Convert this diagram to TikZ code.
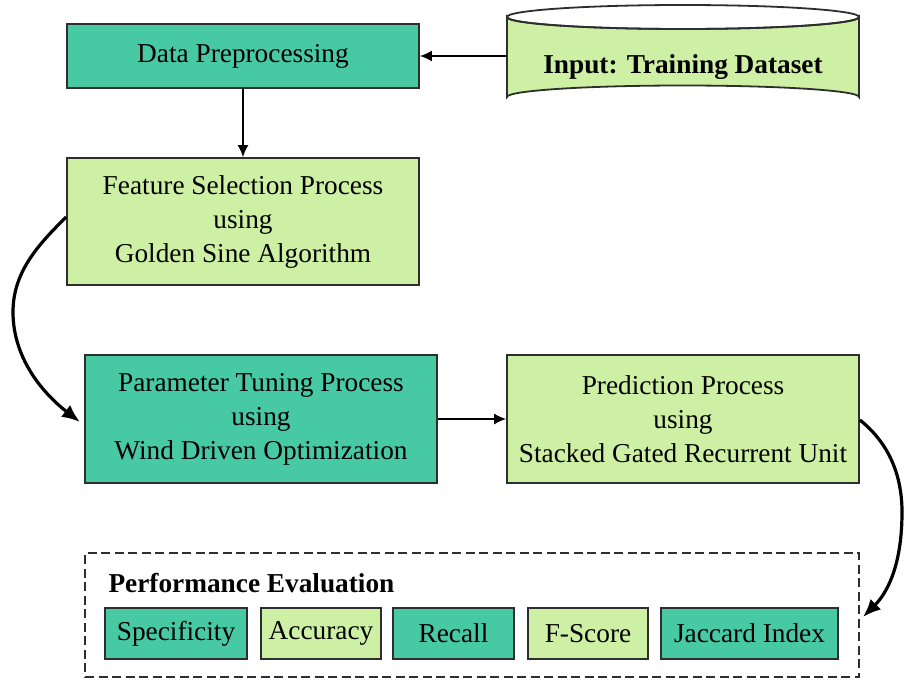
\documentclass[tikz,border=0pt]{standalone}
\usepackage{fontspec}
\setmainfont{Liberation Serif}
\usetikzlibrary{arrows.meta}
\definecolor{tealbox}{HTML}{47C9A4}
\definecolor{limebox}{HTML}{CDF0A4}
\definecolor{edgegray}{HTML}{2E2E2E}
\begin{document}
\begin{tikzpicture}[x=1pt,y=-1pt,
  txt/.style={font=\fontsize{27.3}{34}\selectfont},
  box/.style={draw=edgegray, line width=1.8pt, inner sep=0pt, align=center,
              minimum width=352pt, txt},
  small/.style={draw=edgegray, line width=1.8pt, inner sep=0pt, align=center,
              minimum height=51pt, txt},
  flow/.style={line width=1.6pt, -{Latex[length=12pt,width=11pt]}},
  curvearrow/.style={line width=3.2pt, -{Latex[length=18pt,width=15pt]}}
]
\useasboundingbox[fill=white] (0,0) rectangle (904,680);

% input dataset drum
\path[fill=limebox, draw=edgegray, line width=1.8pt]
  (507,17) -- (507,97)
  arc[start angle=180, end angle=0, x radius=176pt, y radius=11.5pt]
  -- (859,17)
  arc[start angle=0, end angle=-180, x radius=176pt, y radius=12pt] -- cycle;
\draw[edgegray, line width=1.8pt] (683,17) ellipse [x radius=176pt, y radius=12pt];
\node[minimum width=352pt, minimum height=103pt, inner sep=0pt] (inp) at (683,56) {};
\node[txt, font=\fontsize{27.3}{34}\selectfont\bfseries] at (683,67) {Input: Training Dataset};

% processing stages
\node[box, fill=tealbox, minimum height=64pt] (dp) at (243,56) {Data Preprocessing};
\node[box, fill=limebox, minimum height=127pt] (fs) at (243,221.5)
  {Feature Selection Process\\using\\Golden Sine Algorithm};
\node[box, fill=tealbox, minimum height=128pt] (pt) at (261,419)
  {Parameter Tuning Process\\using\\Wind Driven Optimization};
\node[box, fill=limebox, minimum height=128pt] (pr) at (683,419)
  {Prediction Process\\using\\Stacked Gated Recurrent Unit};

% evaluation group
\node[draw=edgegray, line width=2pt, dash pattern=on 9pt off 4.5pt,
      minimum width=774pt, minimum height=124pt, inner sep=0pt] (ev) at (472,615) {};
\node[txt, font=\fontsize{27.3}{34}\selectfont\bfseries, anchor=west] (evt) at (105,583)
  {Performance Evaluation};
\node[small, fill=tealbox, minimum width=142pt] (m1) at (176,633.5) {Specificity};
\node[small, fill=limebox, minimum width=120pt] (m2) at (321,633.5) {Accuracy};
\node[small, fill=tealbox, minimum width=121pt] (m3) at (453.5,633.5) {Recall};
\node[small, fill=limebox, minimum width=120pt] (m4) at (588,633.5) {F-Score};
\node[small, fill=tealbox, minimum width=177pt] (m5) at (749.5,633.5) {Jaccard Index};

% connectors
\draw[flow] (inp.west) -- (dp.east);
\draw[flow] (dp.south) -- (fs.north);
\draw[flow] (pt.east) -- (pr.west);
\coordinate (lt) at (fs.west |- 0,217);
\coordinate (lb) at (80,422);
\draw[curvearrow] (lt) .. controls (38,245) and (13,272) .. (13,312)
  .. controls (13,360) and (45,395) .. (lb);
\coordinate (rt) at (pr.east |- 0,420);
\coordinate (rb) at (863,617);
\draw[curvearrow] (rt) .. controls (885,440) and (902,470) .. (902,512)
  .. controls (902,560) and (890,590) .. (rb);
\end{tikzpicture}
\end{document}
